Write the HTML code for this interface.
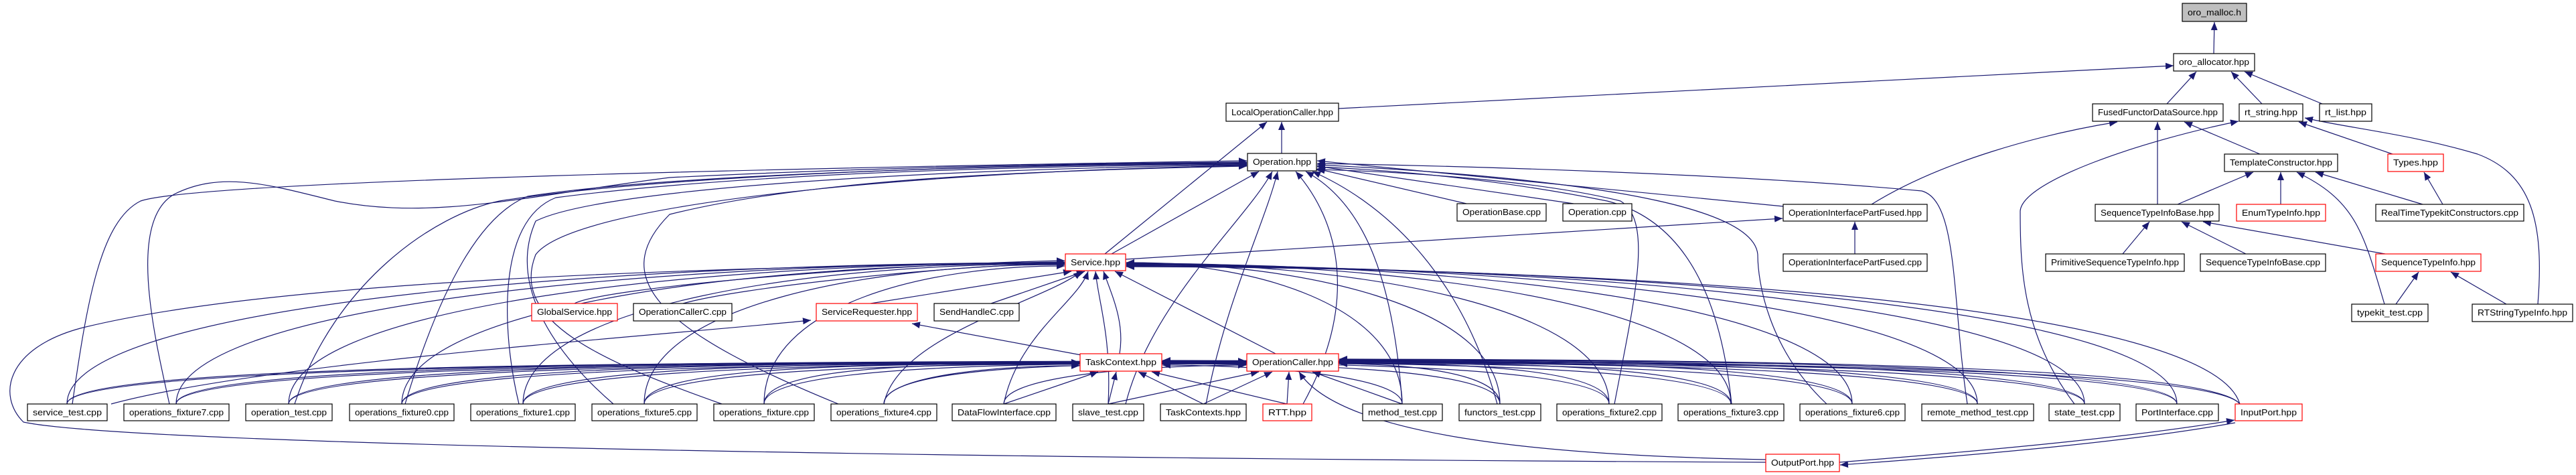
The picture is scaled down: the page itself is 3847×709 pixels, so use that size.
<!DOCTYPE html>
<html><head><meta charset="utf-8"><style>
html,body{margin:0;padding:0;background:#fff;}
svg{display:block;}
text{font-family:"Liberation Sans",sans-serif;font-size:12.5px;fill:#000;}
.e{fill:none;stroke:#191970;stroke-width:1.2;marker-end:url(#a);}
.n{fill:#fff;stroke:#000;stroke-width:1.2;}
.r{fill:#fff;stroke:#ff0000;stroke-width:1.2;}
</style></head><body>
<svg width="3847" height="709" viewBox="0 0 3847 709" xmlns="http://www.w3.org/2000/svg">
<defs><marker id="a" markerUnits="userSpaceOnUse" markerWidth="13" markerHeight="10" refX="12" refY="5" orient="auto"><path d="M0,0 L12,5 L0,10 z" fill="#191970"/></marker></defs>
<g>
<!-- top section -->
<path class="e" d="M3306 80 L3307 33"/>
<path class="e" d="M3236 155 L3280 107"/>
<path class="e" d="M3378 155 L3332 107"/>
<path class="e" d="M3468 155 L3352 107"/>
<path class="e" d="M1999 162 L3246 98"/>
<path class="e" d="M1914 229 L1914 182"/>
<path class="e" d="M1650 379 L1892 182"/>
<path class="e" d="M1660 379 L1880 256"/>
<path class="e" d="M2795 305 C2900 240, 3050 200, 3162 182"/>
<path class="e" d="M3222 305 L3222 182"/>
<path class="e" d="M3375 230 L3262 182"/>
<path class="e" d="M3573 230 L3433 182"/>
<path class="e" d="M3790 454 C3800 330, 3780 260, 3700 230 C3600 200, 3500 190, 3442 176"/>
<path class="e" d="M3098 603 C3020 500, 3017 400, 3017 315 C3020 270, 3200 210, 3343 181"/>
<path class="e" d="M3252 305 L3365 257"/>
<path class="e" d="M3406 305 L3406 257"/>
<path class="e" d="M3618 305 L3458 257"/>
<path class="e" d="M3561 454 C3530 350, 3520 300, 3430 257"/>
<path class="e" d="M3648 305 L3620 257"/>
<path class="e" d="M3170 379 L3210 331"/>
<path class="e" d="M3354 379 L3258 331"/>
<path class="e" d="M3562 379 L3290 331"/>
<path class="e" d="M3578 454 L3612 406"/>
<path class="e" d="M3743 454 L3660 406"/>
<path class="e" d="M2770 379 L2770 331"/>
<path class="e" d="M2663 308 L1967 240"/>
<path class="e" d="M1681 387 L2662 326"/>
<path class="e" d="M2190 304 L1967 252"/>
<path class="e" d="M2350 304 L1967 248"/>
<!-- Operation children -->
<path class="e" d="M2938 603 C2915 450, 2925 300, 2870 285 C2600 260, 2200 248, 1967 244"/>
<path class="e" d="M2728 603 C2640 520, 2625 420, 2625 380 C2620 320, 2450 270, 1967 246"/>
<path class="e" d="M2586 603 C2570 450, 2520 330, 2400 300 C2250 270, 2100 255, 1967 249"/>
<path class="e" d="M2411 603 C2440 450, 2470 330, 2420 300 C2300 270, 2100 256, 1964 253"/>
<path class="e" d="M2236 603 C2180 400, 2060 300, 1960 256"/>
<path class="e" d="M2094 603 C2080 400, 2030 300, 1950 256"/>
<path class="e" d="M1946 603 C2030 450, 2000 330, 1935 256"/>
<path class="e" d="M1801 603 C1830 450, 1890 330, 1908 256"/>
<path class="e" d="M1681 603 C1720 450, 1860 330, 1900 256"/>
<path class="e" d="M108 603 C130 450, 150 330, 210 300 C300 270, 1200 250, 1862 240"/>
<path class="e" d="M253 603 C230 500, 190 330, 260 290 C330 255, 400 275, 500 300 C650 330, 800 290, 1000 265 C1300 250, 1600 244, 1862 242"/>
<path class="e" d="M440 603 C500 420, 650 320, 746 300 C1000 260, 1500 245, 1862 243"/>
<path class="e" d="M605 603 C660 420, 720 320, 788 293 C1000 260, 1500 246, 1862 244"/>
<path class="e" d="M775 603 C750 500, 740 330, 830 295 C1100 260, 1500 248, 1862 245"/>
<path class="e" d="M916 603 C820 520, 760 420, 800 330 C900 280, 1400 252, 1862 246"/>
<path class="e" d="M1078 603 C900 540, 760 480, 800 380 C860 300, 1400 255, 1862 247"/>
<path class="e" d="M1252 603 C1000 500, 900 420, 1000 320 C1200 270, 1500 255, 1862 248"/>
<!-- Service children -->
<path class="e" d="M858 453 C900 430, 1300 395, 1590 389"/>
<path class="e" d="M1020 453 C1100 430, 1400 397, 1590 393"/>
<path class="e" d="M1300 453 L1600 405"/>
<path class="e" d="M1480 453 L1620 405"/>
<path class="e" d="M1672 528 C1680 480, 1660 440, 1648 405"/>
<path class="e" d="M1905 528 L1665 405"/>
<path class="e" d="M100 603 C100 453, 920 392, 1590 392"/>
<path class="e" d="M263 603 C263 453, 993 392, 1590 392"/>
<path class="e" d="M431 603 C431 453, 1069 392, 1590 392"/>
<path class="e" d="M600 603 C600 453, 1145 392, 1590 393"/>
<path class="e" d="M781 603 C781 453, 1226 392, 1590 394"/>
<path class="e" d="M962 603 C962 453, 1308 394, 1590 395"/>
<path class="e" d="M1141 603 C1141 453, 1388 396, 1590 397"/>
<path class="e" d="M1320 603 C1340 500, 1560 450, 1615 405"/>
<path class="e" d="M1499 603 C1520 500, 1610 450, 1625 405"/>
<path class="e" d="M1655 603 C1660 500, 1640 450, 1636 405"/>
<path class="e" d="M2094 603 C2094 453, 1867 392, 1682 392"/>
<path class="e" d="M2240 603 C2240 453, 1933 392, 1682 392"/>
<path class="e" d="M2403 603 C2403 453, 2006 392, 1682 393"/>
<path class="e" d="M2585 603 C2585 453, 2088 392, 1682 393"/>
<path class="e" d="M2766 603 C2766 453, 2169 392, 1682 394"/>
<path class="e" d="M2953 603 C2953 453, 2253 394, 1682 395"/>
<path class="e" d="M3113 603 C3113 453, 2325 396, 1682 396"/>
<path class="e" d="M3251 603 C3251 453, 2388 398, 1682 397"/>
<path class="e" d="M3345 603 C3300 453, 2449 400, 1682 398"/>
<path class="e" d="M2637 690 C1500 685, 200 665, 35 630 C-5 590, 10 520, 120 490 C400 420, 1000 400, 1590 391"/>
<!-- ServiceRequester -->
<path class="e" d="M166 603 C400 540, 1000 500, 1211 478"/>
<path class="e" d="M1615 530 L1362 483"/>
<!-- TaskContext children -->
<path class="e" d="M100 603 C100 543, 1008 541, 1612 541"/>
<path class="e" d="M263 603 C263 543, 1073 541, 1612 541"/>
<path class="e" d="M431 603 C431 543, 1140 541, 1612 542"/>
<path class="e" d="M600 603 C600 543, 1208 542, 1612 542"/>
<path class="e" d="M781 603 C781 543, 1280 542, 1612 543"/>
<path class="e" d="M962 603 C962 543, 1353 543, 1612 543"/>
<path class="e" d="M1141 603 C1141 543, 1424 543, 1612 544"/>
<path class="e" d="M1320 603 C1320 560, 1496 545, 1612 546"/>
<path class="e" d="M1499 603 L1640 555"/>
<path class="e" d="M1655 603 L1667 555"/>
<path class="e" d="M1797 603 L1700 555"/>
<path class="e" d="M1922 603 L1720 555"/>
<path class="e" d="M2094 603 C2094 560, 1879 545, 1736 545"/>
<path class="e" d="M2240 603 C2240 550, 1937 543, 1736 543"/>
<path class="e" d="M2403 603 C2403 548, 2002 542, 1736 542"/>
<path class="e" d="M2585 603 C2585 545, 2075 541, 1736 541"/>
<path class="e" d="M2766 603 C2766 543, 2147 541, 1736 541"/>
<path class="e" d="M2953 603 C2953 543, 2222 540, 1736 540"/>
<path class="e" d="M3113 603 C3113 543, 2286 540, 1736 540"/>
<path class="e" d="M3251 603 C3251 543, 2341 539, 1736 539"/>
<path class="e" d="M3345 603 C3300 543, 2396 539, 1736 538"/>
<!-- OperationCaller children -->
<path class="e" d="M100 603 C100 543, 1157 539, 1861 539"/>
<path class="e" d="M263 603 C263 543, 1222 540, 1861 540"/>
<path class="e" d="M431 603 C431 543, 1290 540, 1861 540"/>
<path class="e" d="M600 603 C600 543, 1357 541, 1861 541"/>
<path class="e" d="M781 603 C781 543, 1430 541, 1861 541"/>
<path class="e" d="M962 603 C962 543, 1502 542, 1861 542"/>
<path class="e" d="M1141 603 C1141 543, 1574 542, 1861 542"/>
<path class="e" d="M1320 603 C1320 543, 1645 543, 1861 543"/>
<path class="e" d="M1499 603 C1499 560, 1717 545, 1861 545"/>
<path class="e" d="M1655 603 L1880 555"/>
<path class="e" d="M1797 603 L1900 555"/>
<path class="e" d="M1922 603 L1925 555"/>
<path class="e" d="M2094 603 L1960 555"/>
<path class="e" d="M2240 603 C2240 555, 2095 543, 2000 543"/>
<path class="e" d="M2403 603 C2403 548, 2161 542, 2000 542"/>
<path class="e" d="M2585 603 C2585 545, 2233 541, 2000 541"/>
<path class="e" d="M2766 603 C2766 543, 2306 540, 2000 540"/>
<path class="e" d="M2953 603 C2953 543, 2381 539, 2000 539"/>
<path class="e" d="M3113 603 C3113 543, 2445 538, 2000 538"/>
<path class="e" d="M3251 603 C3251 543, 2500 537, 2000 537"/>
<path class="e" d="M3345 603 C3300 543, 2555 537, 2000 536"/>
<path class="e" d="M2637 686 C2300 680, 2000 650, 1940 555"/>
<!-- Input/Output port -->
<path class="e" d="M2747 690 C3000 670, 3200 650, 3337 627"/>
<path class="e" d="M3338 631 C3200 656, 3000 676, 2748 694"/>
</g>
<g>
<rect class="n" x="3259" y="5" width="96" height="27" style="fill:#bfbfbf"/><text x="3267" y="23" textLength="80" lengthAdjust="spacingAndGlyphs">oro_malloc.h</text>
<rect class="n" x="3246" y="80" width="121" height="26"/><text x="3254" y="97" textLength="105" lengthAdjust="spacingAndGlyphs">oro_allocator.hpp</text>
<rect class="n" x="1831" y="154" width="168" height="27"/><text x="1839" y="172" textLength="152" lengthAdjust="spacingAndGlyphs">LocalOperationCaller.hpp</text>
<rect class="n" x="3125" y="155" width="195" height="26"/><text x="3133" y="172" textLength="179" lengthAdjust="spacingAndGlyphs">FusedFunctorDataSource.hpp</text>
<rect class="n" x="3344" y="155" width="95" height="26"/><text x="3352" y="172" textLength="79" lengthAdjust="spacingAndGlyphs">rt_string.hpp</text>
<rect class="n" x="3464" y="155" width="78" height="26"/><text x="3472" y="172" textLength="62" lengthAdjust="spacingAndGlyphs">rt_list.hpp</text>
<rect class="n" x="1863" y="229" width="103" height="26"/><text x="1871" y="246" textLength="87" lengthAdjust="spacingAndGlyphs">Operation.hpp</text>
<rect class="n" x="3322" y="230" width="169" height="26"/><text x="3330" y="247" textLength="153" lengthAdjust="spacingAndGlyphs">TemplateConstructor.hpp</text>
<rect class="r" x="3566" y="230" width="83" height="26"/><text x="3574" y="247" textLength="67" lengthAdjust="spacingAndGlyphs">Types.hpp</text>
<rect class="n" x="2176" y="304" width="133" height="26"/><text x="2184" y="321" textLength="117" lengthAdjust="spacingAndGlyphs">OperationBase.cpp</text>
<rect class="n" x="2334" y="304" width="103" height="26"/><text x="2342" y="321" textLength="87" lengthAdjust="spacingAndGlyphs">Operation.cpp</text>
<rect class="n" x="2663" y="305" width="215" height="25"/><text x="2671" y="322" textLength="199" lengthAdjust="spacingAndGlyphs">OperationInterfacePartFused.hpp</text>
<rect class="n" x="3129" y="305" width="185" height="25"/><text x="3137" y="322" textLength="169" lengthAdjust="spacingAndGlyphs">SequenceTypeInfoBase.hpp</text>
<rect class="r" x="3340" y="305" width="133" height="25"/><text x="3348" y="322" textLength="117" lengthAdjust="spacingAndGlyphs">EnumTypeInfo.hpp</text>
<rect class="n" x="3548" y="305" width="221" height="25"/><text x="3556" y="322" textLength="205" lengthAdjust="spacingAndGlyphs">RealTimeTypekitConstructors.cpp</text>
<rect class="r" x="1591" y="379" width="90" height="25"/><text x="1599" y="396" textLength="74" lengthAdjust="spacingAndGlyphs">Service.hpp</text>
<rect class="n" x="2663" y="379" width="215" height="26"/><text x="2671" y="396" textLength="199" lengthAdjust="spacingAndGlyphs">OperationInterfacePartFused.cpp</text>
<rect class="n" x="3055" y="379" width="207" height="26"/><text x="3063" y="396" textLength="191" lengthAdjust="spacingAndGlyphs">PrimitiveSequenceTypeInfo.hpp</text>
<rect class="n" x="3286" y="379" width="187" height="26"/><text x="3294" y="396" textLength="171" lengthAdjust="spacingAndGlyphs">SequenceTypeInfoBase.cpp</text>
<rect class="r" x="3548" y="379" width="157" height="26"/><text x="3556" y="396" textLength="141" lengthAdjust="spacingAndGlyphs">SequenceTypeInfo.hpp</text>
<rect class="r" x="794" y="453" width="128" height="26"/><text x="802" y="470" textLength="112" lengthAdjust="spacingAndGlyphs">GlobalService.hpp</text>
<rect class="n" x="946" y="453" width="147" height="26"/><text x="954" y="470" textLength="131" lengthAdjust="spacingAndGlyphs">OperationCallerC.cpp</text>
<rect class="r" x="1219" y="453" width="151" height="26"/><text x="1227" y="470" textLength="135" lengthAdjust="spacingAndGlyphs">ServiceRequester.hpp</text>
<rect class="n" x="1395" y="453" width="127" height="26"/><text x="1403" y="470" textLength="111" lengthAdjust="spacingAndGlyphs">SendHandleC.cpp</text>
<rect class="n" x="3512" y="454" width="114" height="26"/><text x="3520" y="471" textLength="98" lengthAdjust="spacingAndGlyphs">typekit_test.cpp</text>
<rect class="n" x="3692" y="454" width="150" height="26"/><text x="3700" y="471" textLength="134" lengthAdjust="spacingAndGlyphs">RTStringTypeInfo.hpp</text>
<rect class="r" x="1613" y="528" width="122" height="26"/><text x="1621" y="545" textLength="106" lengthAdjust="spacingAndGlyphs">TaskContext.hpp</text>
<rect class="r" x="1862" y="528" width="137" height="26"/><text x="1870" y="545" textLength="121" lengthAdjust="spacingAndGlyphs">OperationCaller.hpp</text>
<rect class="n" x="41" y="603" width="119" height="25"/><text x="49" y="620" textLength="103" lengthAdjust="spacingAndGlyphs">service_test.cpp</text>
<rect class="n" x="185" y="603" width="157" height="25"/><text x="193" y="620" textLength="141" lengthAdjust="spacingAndGlyphs">operations_fixture7.cpp</text>
<rect class="n" x="367" y="603" width="129" height="25"/><text x="375" y="620" textLength="113" lengthAdjust="spacingAndGlyphs">operation_test.cpp</text>
<rect class="n" x="522" y="603" width="156" height="25"/><text x="530" y="620" textLength="140" lengthAdjust="spacingAndGlyphs">operations_fixture0.cpp</text>
<rect class="n" x="703" y="603" width="156" height="25"/><text x="711" y="620" textLength="140" lengthAdjust="spacingAndGlyphs">operations_fixture1.cpp</text>
<rect class="n" x="884" y="603" width="157" height="25"/><text x="892" y="620" textLength="141" lengthAdjust="spacingAndGlyphs">operations_fixture5.cpp</text>
<rect class="n" x="1066" y="603" width="150" height="25"/><text x="1074" y="620" textLength="134" lengthAdjust="spacingAndGlyphs">operations_fixture.cpp</text>
<rect class="n" x="1241" y="603" width="158" height="25"/><text x="1249" y="620" textLength="142" lengthAdjust="spacingAndGlyphs">operations_fixture4.cpp</text>
<rect class="n" x="1422" y="603" width="155" height="25"/><text x="1430" y="620" textLength="139" lengthAdjust="spacingAndGlyphs">DataFlowInterface.cpp</text>
<rect class="n" x="1602" y="603" width="106" height="25"/><text x="1610" y="620" textLength="90" lengthAdjust="spacingAndGlyphs">slave_test.cpp</text>
<rect class="n" x="1733" y="603" width="128" height="25"/><text x="1741" y="620" textLength="112" lengthAdjust="spacingAndGlyphs">TaskContexts.hpp</text>
<rect class="r" x="1886" y="603" width="73" height="25"/><text x="1894" y="620" textLength="57" lengthAdjust="spacingAndGlyphs">RTT.hpp</text>
<rect class="n" x="2035" y="603" width="119" height="25"/><text x="2043" y="620" textLength="103" lengthAdjust="spacingAndGlyphs">method_test.cpp</text>
<rect class="n" x="2179" y="603" width="122" height="25"/><text x="2187" y="620" textLength="106" lengthAdjust="spacingAndGlyphs">functors_test.cpp</text>
<rect class="n" x="2325" y="603" width="157" height="25"/><text x="2333" y="620" textLength="141" lengthAdjust="spacingAndGlyphs">operations_fixture2.cpp</text>
<rect class="n" x="2506" y="603" width="158" height="25"/><text x="2514" y="620" textLength="142" lengthAdjust="spacingAndGlyphs">operations_fixture3.cpp</text>
<rect class="n" x="2688" y="603" width="157" height="25"/><text x="2696" y="620" textLength="141" lengthAdjust="spacingAndGlyphs">operations_fixture6.cpp</text>
<rect class="n" x="2870" y="603" width="167" height="25"/><text x="2878" y="620" textLength="151" lengthAdjust="spacingAndGlyphs">remote_method_test.cpp</text>
<rect class="n" x="3060" y="603" width="106" height="25"/><text x="3068" y="620" textLength="90" lengthAdjust="spacingAndGlyphs">state_test.cpp</text>
<rect class="n" x="3190" y="603" width="123" height="25"/><text x="3198" y="620" textLength="107" lengthAdjust="spacingAndGlyphs">PortInterface.cpp</text>
<rect class="r" x="3338" y="603" width="100" height="25"/><text x="3346" y="620" textLength="84" lengthAdjust="spacingAndGlyphs">InputPort.hpp</text>
<rect class="r" x="2637" y="678" width="110" height="26"/><text x="2645" y="695" textLength="94" lengthAdjust="spacingAndGlyphs">OutputPort.hpp</text>
</g>
</svg>
</body></html>
